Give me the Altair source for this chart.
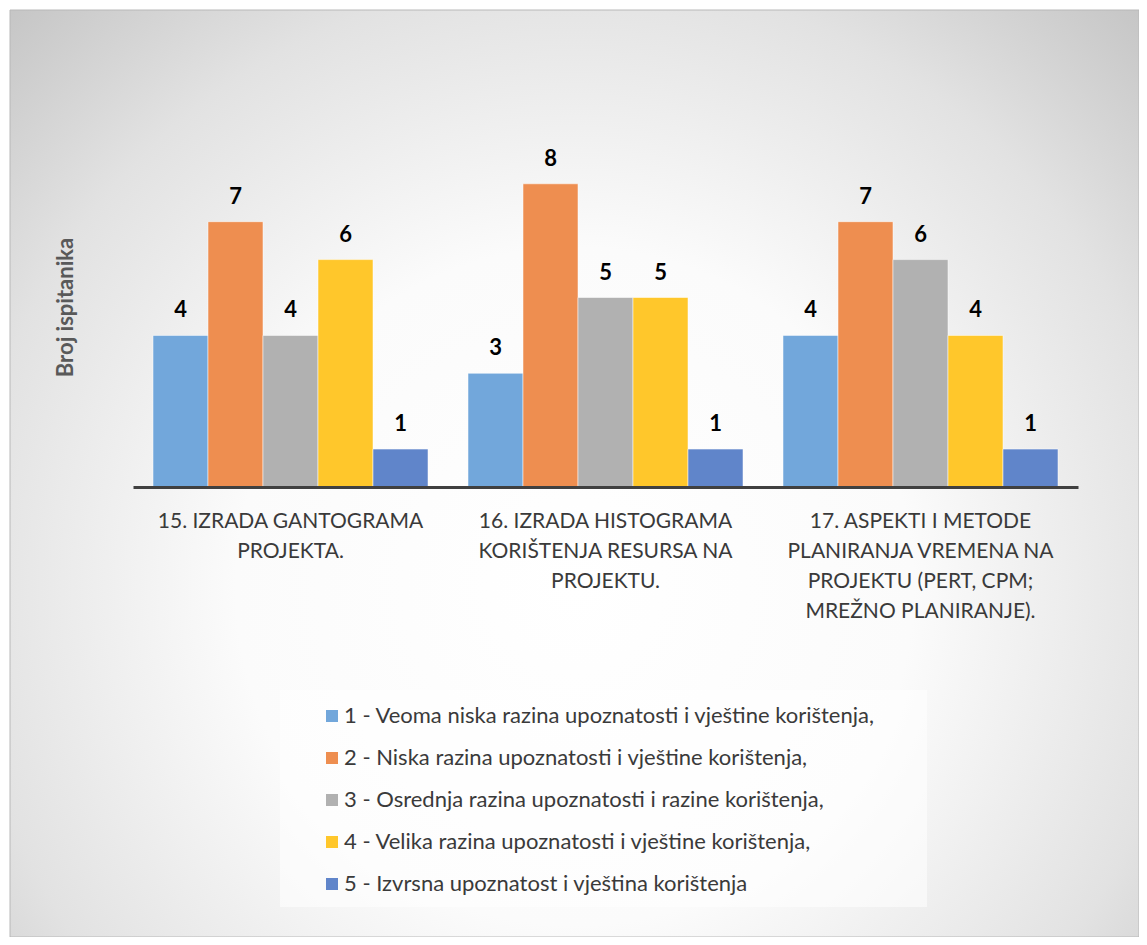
import altair as alt
import pandas as pd

categories = [
    "15. IZRADA GANTOGRAMA|PROJEKTA.",
    "16. IZRADA HISTOGRAMA|KORIŠTENJA RESURSA NA|PROJEKTU.",
    "17. ASPEKTI I METODE|PLANIRANJA VREMENA NA|PROJEKTU (PERT, CPM;|MREŽNO PLANIRANJE).",
]
series = [
    "1 - Veoma niska razina upoznatosti i vještine korištenja,",
    "2 - Niska razina upoznatosti i vještine korištenja,",
    "3 - Osrednja razina upoznatosti i razine korištenja,",
    "4 - Velika razina upoznatosti i vještine korištenja,",
    "5 - Izvrsna upoznatost i vještina korištenja",
]
values_15 = [4, 7, 4, 6, 1]
values_16 = [3, 8, 5, 5, 1]
values_17 = [4, 7, 6, 4, 1]
colors = ["#72a7db", "#ee8e50", "#b1b1b1", "#ffc72b", "#6085ca"]

rows = []
for cat, vals in zip(categories, [values_15, values_16, values_17]):
    for s, v in zip(series, vals):
        rows.append({"kategorija": cat, "razina": s, "broj": v})
df = pd.DataFrame(rows)

FONT = "Lato"
W, H = 945, 379

one = alt.Data(values=[{"a": 1}])

bg = alt.Chart(one).mark_rect(
    fill=alt.RadialGradient(
        gradient="radial",
        stops=[
            alt.GradientStop(offset=0, color="#ffffff"),
            alt.GradientStop(offset=0.4, color="#fbfbfb"),
            alt.GradientStop(offset=0.72, color="#e2e2e2"),
            alt.GradientStop(offset=1, color="#c0c0c0"),
        ],
        x1=0.5, y1=0.6, r1=0, x2=0.5, y2=0.6, r2=0.75,
    ),
    stroke="#b8b8b8", strokeWidth=1,
).encode(x=alt.value(-123), x2=alt.value(1006), y=alt.value(-98), y2=alt.value(829))

legend_box = alt.Chart(one).mark_rect(fill="#ffffff", opacity=0.55).encode(
    x=alt.value(147), x2=alt.value(794), y=alt.value(582), y2=alt.value(799)
)

base = alt.Chart(df).encode(
    x=alt.X(
        "kategorija:N",
        sort=categories,
        scale=alt.Scale(paddingInner=40 / 315, paddingOuter=20 / 315),
        axis=alt.Axis(
            title=None, labelExpr="split(datum.label, '|')", labelAngle=0,
            labelFont=FONT, labelFontSize=21, labelColor="#3a3a3a",
            labelLineHeight=30, labelPadding=23, labelLimit=500,
            ticks=False, domainColor="#404040", domainWidth=3, zindex=2,
        ),
    ),
    xOffset=alt.XOffset("razina:N", sort=series, scale=alt.Scale(paddingInner=0, paddingOuter=0)),
    y=alt.Y(
        "broj:Q",
        scale=alt.Scale(domain=[0, 10], nice=False),
        axis=alt.Axis(
            title="Broj ispitanika", labels=False, ticks=False, domain=False, grid=False,
            titleFont=FONT, titleFontSize=22, titleFontWeight="bold", titleColor="#595959",
            titleX=-56, titleY=199, titleAngle=270, titleAlign="center", titleBaseline="bottom",
            zindex=2,
        ),
    ),
)

bars = base.mark_bar(stroke="#ffffff", strokeWidth=1, strokeOpacity=0.5).encode(
    color=alt.Color(
        "razina:N", sort=series,
        scale=alt.Scale(domain=series, range=colors),
        legend=alt.Legend(
            title=None, orient="none", legendX=188, legendY=597,
            symbolType="square", symbolSize=144, symbolStrokeWidth=0,
            labelFont=FONT, labelFontSize=22, labelColor="#3a3a3a",
            labelLimit=1000, rowPadding=20, labelOffset=1, padding=0, zindex=2,
        ),
    )
)

texts = base.mark_text(
    baseline="alphabetic", dy=-18, font=FONT, fontSize=22, fontWeight="bold", color="#000000"
).encode(text="broj:Q")

chart = alt.layer(bg, legend_box, bars, texts).properties(
    width=W, height=H,
    autosize=alt.AutoSizeParams(type="none"),
    padding={"left": 125, "top": 100, "right": 61, "bottom": 450},
    background="#ffffff",
).configure_view(stroke=None)

chart.save("out.html", embed_options={"renderer": "svg", "actions": False})
